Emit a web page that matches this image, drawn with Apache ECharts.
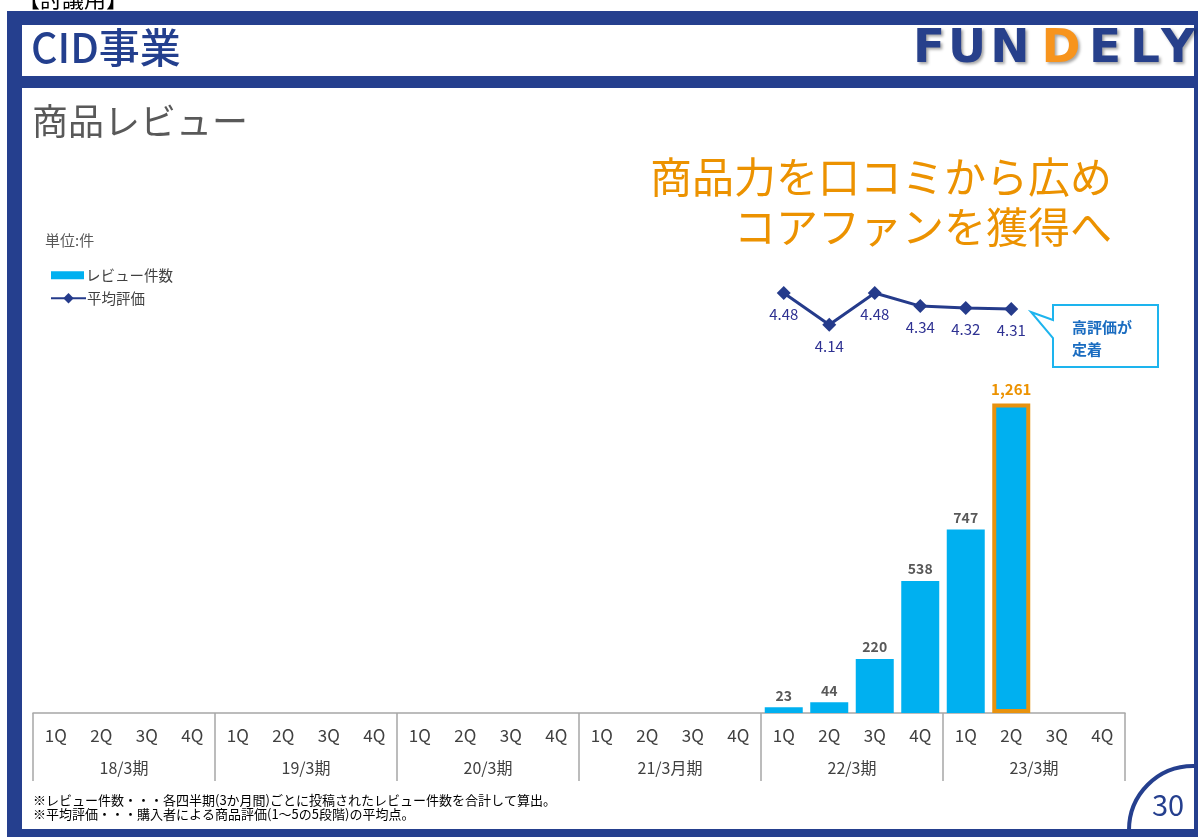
<!DOCTYPE html>
<html><head><meta charset="utf-8">
<script src="https://cdn.jsdelivr.net/npm/echarts@6/dist/echarts.min.js"></script>
<style>html,body{margin:0;padding:0;background:#fff}#c{width:1198px;height:837px}</style>
</head><body><div id="c"></div>
<script>
const periods = ['18/3期','19/3期','20/3期','21/3月期','22/3期','23/3期'];
const quarters = ['1Q','2Q','3Q','4Q'];
const reviewCounts = [null,null,null,null, null,null,null,null, null,null,null,null, null,null,null,null, 23,44,220,538, 747,1261,null,null];
const avgRating   = [null,null,null,null, null,null,null,null, null,null,null,null, null,null,null,null, 4.48,4.14,4.48,4.34, 4.32,4.31,null,null];
const highlightIndex = 21;

const FONT = '"Noto Sans CJK JP", "Noto Sans", sans-serif';
const NAVY = '#253f8e';
const BLUE_BAR = '#00b0f0';
const ORANGE = '#ec9200';

const categories = [];
periods.forEach(p => quarters.forEach(q => categories.push(p + ' ' + q)));

const barData = reviewCounts.map((v, i) => {
  if (i === highlightIndex) {
    return { value: v, itemStyle: { borderColor: '#e8920e', borderWidth: 4 },
      label: { color: ORANGE, fontSize: 15, fontWeight: 'bold', distance: 7 } };
  }
  return v;
});

const chart = echarts.init(document.getElementById('c'));
const logo = ['F','U','N','D','E','L','Y'];
const logoX = [929, 967, 1010, 1061, 1105, 1145, 1178];

const graphics = [
  { type: 'rect', z: -5, shape: { x: 7, y: 11, width: 1191, height: 826 }, style: { fill: NAVY } },
  { type: 'rect', z: -4, shape: { x: 22, y: 25, width: 1172, height: 51 }, style: { fill: '#fff' } },
  { type: 'rect', z: -4, shape: { x: 22, y: 88, width: 1172, height: 741 }, style: { fill: '#fff' } },
  { type: 'text', z: 1, left: 18, top: -12, style: { text: '【討議用】', fill: '#000', font: '22px ' + FONT } },
  { type: 'text', z: 1, left: 31, top: 27, style: { text: 'CID事業', fill: '#233f8e', font: '500 41px ' + FONT } },
  { type: 'text', z: 1, left: 32, top: 103, style: { text: '商品レビュー', fill: '#595959', font: '36px ' + FONT } },
  { type: 'text', z: 1, right: 86, top: 156, style: { text: '商品力を口コミから広め', fill: ORANGE, font: '42px ' + FONT, align: 'right' } },
  { type: 'text', z: 1, right: 86, top: 206, style: { text: 'コアファンを獲得へ', fill: ORANGE, font: '42px ' + FONT, align: 'right' } },
  { type: 'text', z: 1, left: 45, top: 233, style: { text: '単位:件', fill: '#595959', font: '15px ' + FONT } },
  { type: 'polygon', z: 5, shape: { points: [[1053,305],[1158,305],[1158,367],[1053,367],[1053,338],[1031,312],[1053,320]] },
    style: { fill: '#fff', stroke: '#1db4ee', lineWidth: 2 } },
  { type: 'text', z: 6, left: 1072, top: 316, style: { text: '高評価が\n定着', fill: '#1a6cc0', font: 'bold 15px ' + FONT, lineHeight: 22 } },
  { type: 'text', z: 1, left: 33, top: 793, style: { text: '※レビュー件数・・・各四半期(3か月間)ごとに投稿されたレビュー件数を合計して算出。\n※平均評価・・・購入者による商品評価(1～5の5段階)の平均点。', fill: '#000', font: '13px ' + FONT, lineHeight: 14 } },
  { type: 'circle', z: 1, shape: { cx: 1193, cy: 830, r: 64 }, style: { fill: '#fff', stroke: NAVY, lineWidth: 4 } },
  { type: 'rect', z: 2, shape: { x: 1100, y: 829, width: 98, height: 8 }, style: { fill: NAVY } },
  { type: 'rect', z: 2, shape: { x: 1194, y: 700, width: 4, height: 137 }, style: { fill: NAVY } },
  { type: 'text', z: 3, x: 1168, y: 805, style: { text: '30', fill: NAVY, font: '29px ' + FONT, align: 'center', verticalAlign: 'middle' } }
];
logo.forEach((ch, i) => {
  graphics.push({ type: 'text', z: 1, x: logoX[i], y: 50,
    style: { text: ch, fill: ch === 'D' ? '#f7941d' : '#27408b', font: 'bold 47px "DejaVu Sans", sans-serif',
      align: 'center', verticalAlign: 'middle', textShadowColor: 'rgba(0,0,0,0.35)', textShadowBlur: 3, textShadowOffsetX: 2, textShadowOffsetY: 2 } });
});

chart.setOption({
  animation: false,
  textStyle: { fontFamily: FONT },
  graphic: graphics,
  legend: [
    { data: ['レビュー件数'], left: 46, top: 263, icon: 'rect', itemWidth: 33, itemHeight: 8, itemGap: 4,
      textStyle: { color: '#404040', fontSize: 14.5, fontFamily: FONT, padding: [0,0,0,-3] } },
    { data: ['平均評価'], left: 45, top: 286, itemWidth: 35, itemHeight: 13,
      textStyle: { color: '#404040', fontSize: 14.5, fontFamily: FONT, padding: [0,0,0,-4] } }
  ],
  grid: { left: 33, right: 73, top: 222, bottom: 124 },
  xAxis: [
    { type: 'category', data: categories, position: 'bottom', offset: 0,
      axisLine: { show: true, lineStyle: { color: '#a6a6a6', width: 1.5 } },
      axisTick: { show: false },
      axisLabel: { interval: 0, margin: 14, color: '#404040', fontSize: 17, fontFamily: FONT,
        formatter: v => v.split(' ')[1] } },
    { type: 'category', data: periods, position: 'bottom', offset: 0,
      axisLine: { show: false },
      axisTick: { show: true, length: 68, inside: false, lineStyle: { color: '#a6a6a6', width: 1.5 } },
      axisLabel: { interval: 0, margin: 47, color: '#404040', fontSize: 16, fontFamily: FONT } }
  ],
  yAxis: [
    { type: 'value', min: 0, max: 2000, show: false, splitLine: { show: false } },
    { type: 'value', min: 0, max: 5.237, show: false, splitLine: { show: false } }
  ],
  series: [
    { name: 'レビュー件数', type: 'bar', xAxisIndex: 0, yAxisIndex: 0, data: barData, barWidth: 38,
      itemStyle: { color: BLUE_BAR },
      label: { show: true, position: 'top', distance: 5, color: '#595959', fontSize: 14, fontWeight: 600, fontFamily: FONT,
        formatter: p => p.value == null ? '' : p.value.toLocaleString('en-US') } },
    { name: '平均評価', type: 'line', xAxisIndex: 0, yAxisIndex: 1, data: avgRating, connectNulls: false,
      symbol: 'diamond', symbolSize: 14, z: 4,
      lineStyle: { color: '#253b8b', width: 3 }, itemStyle: { color: '#253b8b' },
      label: { show: true, position: 'bottom', distance: 7, color: '#2e3192', fontSize: 15, fontFamily: FONT,
        formatter: p => p.value == null ? '' : p.value.toFixed(2) } }
  ]
});
</script></body></html>
